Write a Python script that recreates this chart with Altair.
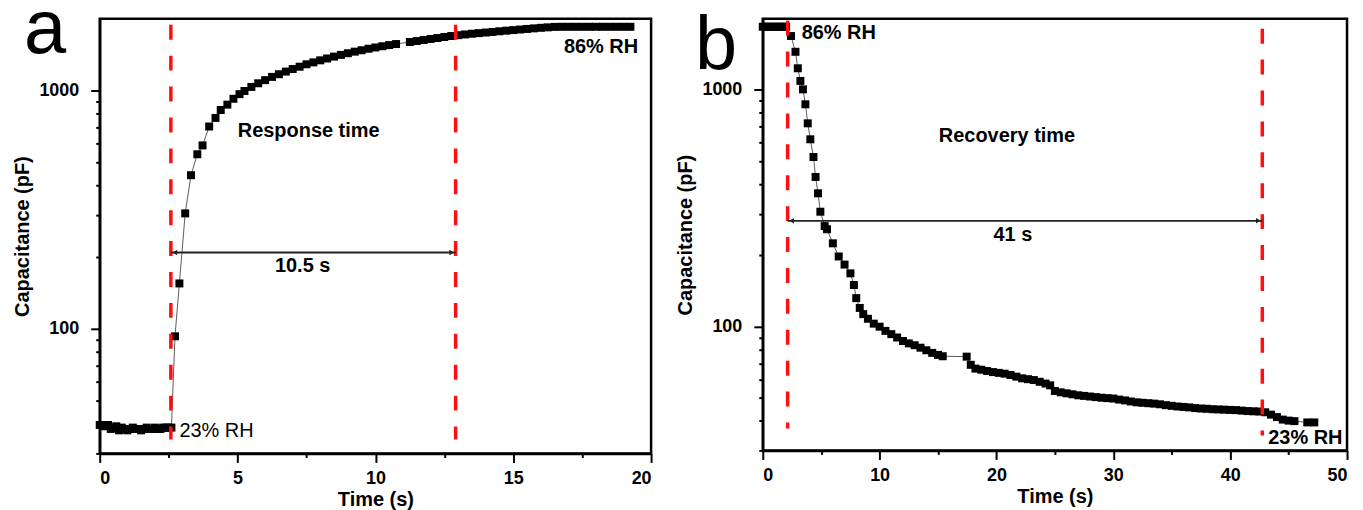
import altair as alt
import pandas as pd

FONT = "Liberation Sans"

# ---------------- Panel a: response (23% -> 86% RH) ----------------
a_time = [0.0, 0.1, 0.2, 0.3, 0.4, 0.5, 0.6, 0.7, 0.8, 0.9, 1.0, 1.1, 1.2, 1.3,
          1.4, 1.5, 1.6, 1.7, 1.8, 1.9, 2.0, 2.1, 2.2, 2.3, 2.4, 2.5, 2.6,
          2.73, 2.89, 3.1, 3.31, 3.54, 3.73, 3.97, 4.2, 4.39, 4.63, 4.85, 5.07,
          5.25, 5.5, 5.75, 6.0, 6.25, 6.5, 6.75, 7.0, 7.25, 7.5, 7.75, 8.0,
          8.25, 8.5, 8.75, 9.0, 9.25, 9.5, 9.75, 10.0, 10.25, 10.5, 10.75,
          11.25, 11.5, 11.75, 12.0, 12.25, 12.5, 12.75, 13.0, 13.25, 13.5,
          13.75, 14.0, 14.25, 14.5, 14.75, 15.0, 15.25, 15.5, 15.75, 16.0,
          16.25, 16.5, 16.75, 17.0, 17.25, 17.5, 17.75, 18.0, 18.25, 18.5,
          18.75, 19.0, 19.25]
a_cap = [39.5, 39.5, 39.0, 39.5, 38.0, 38.5, 39.0, 37.5, 38.5, 38.0, 37.5, 38.0,
         38.5, 38.0, 38.0, 37.5, 38.0, 38.5, 38.0, 38.0, 38.5, 38.0, 38.0, 38.5,
         38.5, 38.5, 38.5,
         93, 155, 305, 441, 540, 588, 706, 767, 828, 872, 923, 965,
         995, 1035, 1072, 1105, 1140, 1170, 1200, 1230, 1258, 1288, 1312, 1338,
         1362, 1387, 1410, 1433, 1455, 1475, 1497, 1515, 1533, 1550, 1566,
         1597, 1612, 1628, 1645, 1660, 1676, 1692, 1706, 1718, 1730,
         1740, 1750, 1760, 1772, 1782, 1792, 1802, 1812, 1822, 1832,
         1840, 1848, 1850, 1850, 1850, 1850, 1850, 1850, 1850, 1850,
         1850, 1850, 1850]

# ---------------- Panel b: recovery (86% -> 23% RH) ----------------
b_time = [0.0, 0.25, 0.5, 0.75, 1.0, 1.25, 1.5, 1.75, 2.0,
          2.42, 2.8, 3.0, 3.22, 3.44, 3.65, 3.85, 4.07, 4.34, 4.52, 4.73, 4.93, 5.3,
          5.5, 6.0, 6.5, 7.0, 7.5, 7.8, 8.0, 8.3, 8.6, 9.0, 9.5, 10.0, 10.5,
          11.0, 11.5, 12.0, 12.5, 13.0, 13.5, 14.0, 14.5, 15.0, 15.4,
          17.45, 17.8, 18.2, 18.7, 19.2, 19.7, 20.2, 20.7, 21.2, 21.7, 22.2,
          22.7, 23.2, 23.7, 24.2, 24.6, 25.0, 25.5, 26.0, 26.5, 27.0, 27.5,
          28.0, 28.5, 29.0, 29.5, 30.0, 30.5, 31.0, 31.5, 32.0, 32.5, 33.0,
          33.5, 34.0, 34.5, 35.0, 35.5, 36.0, 36.5, 37.0, 37.5, 38.0, 38.5,
          39.0, 39.5, 40.0, 40.5, 41.0, 41.5, 42.0, 42.5, 43.0, 43.5, 44.0,
          44.5, 45.0, 45.5, 46.6, 47.2]
b_cap = [1850, 1850, 1850, 1850, 1850, 1850, 1850, 1850, 1850,
         1690, 1450, 1235, 1092, 1006, 870, 723, 619, 521, 429, 366, 306, 266,
         258, 225, 198, 183, 168, 150, 132, 120, 113, 108, 103, 100, 96,
         93, 90, 87, 85, 83.5, 81.5, 79.5, 77.5, 76, 75,
         74.7, 69, 66.5, 65.8, 65, 64.3, 63.8, 63.3, 62.5, 61.5, 60.5,
         60, 59.5, 58.5, 57.5, 56.5, 53.5, 52.8, 52.3, 51.8, 51.3, 51,
         50.7, 50.4, 50.1, 49.9, 49.7, 49.2, 48.8, 48.3, 47.9, 47.7, 47.5,
         47.3, 47, 46.6, 46.3, 46, 45.8, 45.6, 45.3, 45.1, 45, 44.8,
         44.7, 44.6, 44.5, 44.4, 44.2, 44, 43.9, 43.8, 43.5, 42.5, 41.5,
         40.5, 40.1, 39.9, 39.4, 39.4]

y_ticks = [30, 40, 50, 60, 70, 80, 90, 100, 200, 300, 400, 500, 600, 700, 800, 900, 1000]
a_x_ticks = [0, 2.5, 5, 7.5, 10, 12.5, 15, 17.5, 20]
b_x_ticks = [0, 5, 10, 15, 20, 25, 30, 35, 40, 45, 50]

# annotations: (time, capacitance) positions
a_red = [2.58, 12.91]
a_red_span = [1887, 34.3]
a_arrow_y = 209
a_texts = [
    {"t": 7.58, "c": 678, "text": "Response time", "align": "center", "weight": "bold"},
    {"t": 7.36, "c": 183.6, "text": "10.5 s", "align": "center", "weight": "bold"},
    {"t": 19.53, "c": 1521, "text": "86% RH", "align": "right", "weight": "bold"},
    {"t": 2.89, "c": 37.2, "text": "23% RH", "align": "left", "weight": "normal"},
]

b_red = [2.13, 42.75]
b_red_spans = [[1962, 37.1], [1815, 34.7]]
b_arrow_y = 280
b_texts = [
    {"t": 20.9, "c": 641, "text": "Recovery time", "align": "center", "weight": "bold"},
    {"t": 21.4, "c": 243, "text": "41 s", "align": "center", "weight": "bold"},
    {"t": 3.33, "c": 1745, "text": "86% RH", "align": "left", "weight": "bold"},
    {"t": 43.26, "c": 33.9, "text": "23% RH", "align": "left", "weight": "bold"},
]


def panel(times, caps, xdom, xticks, major_every, width, height,
          red_lines, arrow_y, texts, letter, letter_x, letter_y):
    df = pd.DataFrame({"t": times, "c": caps})
    xscale = alt.Scale(domain=xdom, nice=False, zero=False)
    yscale = alt.Scale(type="log", domain=[30, 2000], nice=False)
    xaxis = alt.Axis(
        values=xticks,
        labelExpr=f"datum.value % {major_every} == 0 ? datum.label : ''",
        tickSize={"condition": {"test": f"datum.value % {major_every} == 0", "value": 9}, "value": 4},
        grid=False, title="Time (s)", labelPadding=7, titlePadding=2,
    )
    yaxis = alt.Axis(
        values=y_ticks,
        labelExpr="datum.value == 1000 ? '1000' : (datum.value == 100 ? '100' : '')",
        tickSize={"condition": {"test": "datum.value == 100 || datum.value == 1000", "value": 9}, "value": 4},
        grid=False, title="Capacitance (pF)", labelPadding=12, titlePadding=6,
    )
    x = alt.X("t:Q", scale=xscale, axis=xaxis)
    y = alt.Y("c:Q", scale=yscale, axis=yaxis)

    line = alt.Chart(df).mark_line(color="#333333", strokeWidth=0.8).encode(x=x, y=y)
    pts = alt.Chart(df).mark_point(shape="square", filled=True, color="black",
                                   size=64, opacity=1).encode(x="t:Q", y="c:Q")

    red_rows = []
    for i, (rx, span) in enumerate(red_lines):
        red_rows.append({"t": rx, "c": span[0], "c2": span[1], "k": i})
    red_df = pd.DataFrame(red_rows)
    red = alt.Chart(red_df).mark_rule(color="#ff1010", strokeWidth=3.5,
                                       strokeDash=[15, 16]).encode(x="t:Q", y="c:Q", y2="c2:Q")

    x_start = red_lines[0][0]
    x_end = red_lines[1][0]
    arr_df = pd.DataFrame({"t": [x_start], "t2": [x_end], "c": [arrow_y]})
    arrow = alt.Chart(arr_df).mark_rule(color="#222222", strokeWidth=1.8).encode(
        x="t:Q", x2="t2:Q", y="c:Q")
    head_l = alt.Chart(pd.DataFrame({"t": [x_start], "c": [arrow_y]})).mark_point(
        shape="triangle-left", filled=True, color="#222222", size=30, xOffset=4, opacity=1
    ).encode(x="t:Q", y="c:Q")
    head_r = alt.Chart(pd.DataFrame({"t": [x_end], "c": [arrow_y]})).mark_point(
        shape="triangle-right", filled=True, color="#222222", size=30, xOffset=-4, opacity=1
    ).encode(x="t:Q", y="c:Q")

    layers = [line, pts, red, arrow, head_l, head_r]
    for tx in texts:
        layers.append(
            alt.Chart(pd.DataFrame([tx])).mark_text(
                align=tx["align"], baseline="middle", font=FONT, fontSize=20,
                fontWeight=tx["weight"], color="black"
            ).encode(x="t:Q", y="c:Q", text="text:N")
        )
    lab = alt.Chart(pd.DataFrame({"text": [letter]})).mark_text(
        align="left", baseline="alphabetic", font=FONT, fontSize=76,
        fontWeight="normal", color="black"
    ).encode(x=alt.value(letter_x), y=alt.value(letter_y), text="text:N")
    layers.append(lab)
    return alt.layer(*layers).properties(width=width, height=height)


pa = panel(a_time, a_cap, [0, 20], a_x_ticks, 5, 553, 436,
           [(a_red[0], a_red_span), (a_red[1], a_red_span)], a_arrow_y, a_texts,
           "a", -76, 34)
pb = panel(b_time, b_cap, [0, 50], b_x_ticks, 10, 586, 433,
           [(b_red[0], b_red_spans[0]), (b_red[1], b_red_spans[1])], b_arrow_y, b_texts,
           "b", -68, 50)

chart = alt.hconcat(pa, pb, spacing=20).configure_view(
    stroke="black", strokeWidth=2.5
).configure_axis(
    domainColor="black", domainWidth=2.5, tickColor="black", tickWidth=2,
    labelFont=FONT, labelFontSize=18, labelFontWeight="bold", labelColor="black",
    titleFont=FONT, titleFontSize=20, titleFontWeight="bold",
    titleColor="black",
).properties(
    background="white",
    padding={"left": 3, "top": -19, "right": 5, "bottom": 5},
)

chart.save("out.html", embed_options={"renderer": "svg", "actions": False})
